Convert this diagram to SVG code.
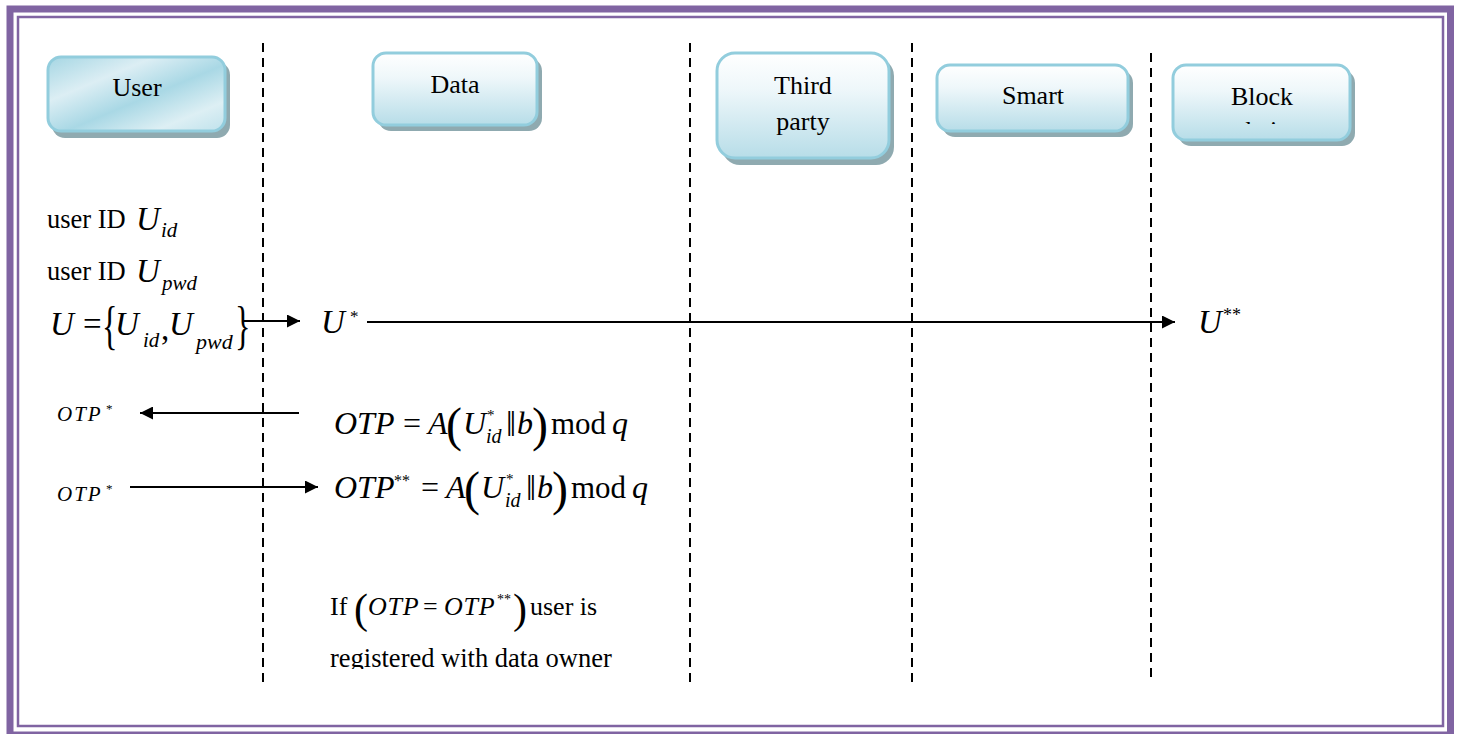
<svg xmlns="http://www.w3.org/2000/svg" width="1459" height="734" viewBox="0 0 1459 734">
  <defs>
    <linearGradient id="gUser" x1="0" y1="0" x2="1" y2="1">
      <stop offset="0" stop-color="#A5D6E3"/>
      <stop offset="0.3" stop-color="#DCEEF4"/>
      <stop offset="0.55" stop-color="#A9D8E5"/>
      <stop offset="0.8" stop-color="#DDEFF4"/>
      <stop offset="1" stop-color="#BFE2EC"/>
    </linearGradient>
    <linearGradient id="gBox" x1="0" y1="0" x2="0" y2="1">
      <stop offset="0" stop-color="#FFFFFF"/>
      <stop offset="0.35" stop-color="#EEF7FA"/>
      <stop offset="1" stop-color="#B7DDE8"/>
    </linearGradient>
    <marker id="arr" viewBox="0 0 10 10" refX="10" refY="5" markerWidth="18" markerHeight="13" markerUnits="userSpaceOnUse" orient="auto">
      <path d="M0,0 L10,5 L0,10 Z" fill="#000"/>
    </marker>
    <clipPath id="clipBlock">
      <rect x="1170" y="60" width="190" height="64"/>
    </clipPath>
    <clipPath id="clipNote">
      <rect x="300" y="580" width="400" height="89"/>
    </clipPath>
  </defs>
  <style>
    .frame { fill: none; stroke: #8064A2; }
    .lane { stroke: #000; stroke-width: 2; stroke-dasharray: 9 6; fill: none; }
    .shadow { fill: #8FAAB0; }
    .box { stroke: #92CDDD; stroke-width: 3; }
    .lbl { font-family: 'Liberation Serif', 'Times New Roman', serif; font-size: 26px; fill: #000; text-anchor: middle; }
    .t { font-family: 'Liberation Serif', 'Times New Roman', serif; fill: #000; }
    .i { font-family: 'Liberation Serif', 'Times New Roman', serif; font-style: italic; fill: #000; }
    .msg { stroke: #000; stroke-width: 2; fill: none; marker-end: url(#arr); }
  </style>

  <!-- page frame -->
  <rect class="frame" x="10" y="9" width="1440.5" height="726" stroke-width="7"/>
  <rect class="frame" x="18" y="17" width="1425" height="709" stroke-width="2.5"/>

  <!-- lifelines -->
  <g id="lifelines">
    <line class="lane" x1="263" y1="43" x2="263" y2="688"/>
    <line class="lane" x1="690" y1="43" x2="690" y2="688"/>
    <line class="lane" x1="912" y1="43" x2="912" y2="688"/>
    <line class="lane" x1="1151" y1="53" x2="1151" y2="678"/>
  </g>

  <!-- participants -->
  <g id="user">
    <rect class="shadow" x="52" y="62" width="178" height="76" rx="13"/>
    <rect class="box" x="48" y="57" width="177" height="74" rx="13" fill="url(#gUser)" stroke="#A3D5E2"/>
    <text class="lbl" x="137" y="96">User</text>
  </g>
  <g id="data">
    <rect class="shadow" x="378" y="58" width="164" height="73" rx="13"/>
    <rect class="box" x="373" y="53" width="164" height="72" rx="13" fill="url(#gBox)"/>
    <text class="lbl" x="455" y="93">Data</text>
  </g>
  <g id="third-party">
    <rect class="shadow" x="722" y="58" width="172" height="107" rx="18"/>
    <rect class="box" x="717" y="53" width="172" height="105" rx="18" fill="url(#gBox)"/>
    <text class="lbl" x="803" y="94">Third</text>
    <text class="lbl" x="803" y="130">party</text>
  </g>
  <g id="smart">
    <rect class="shadow" x="942" y="70" width="191" height="67" rx="13"/>
    <rect class="box" x="937" y="65" width="191" height="66" rx="13" fill="url(#gBox)"/>
    <text class="lbl" x="1033" y="104">Smart</text>
  </g>
  <g id="blockchain">
    <rect class="shadow" x="1178" y="70" width="177" height="76" rx="13"/>
    <rect class="box" x="1173" y="65" width="177" height="75" rx="13" fill="url(#gBox)"/>
    <text class="lbl" x="1262" y="105">Block</text>
    <text class="lbl" x="1262" y="139" clip-path="url(#clipBlock)">chain</text>
  </g>

  <!-- user side notes -->
  <g id="user-notes">
    <text class="t" x="47" y="228" font-size="26.5">user ID</text>
    <text class="i" x="136" y="230" font-size="33">U</text>
    <text class="i" x="161" y="237" font-size="21">id</text>

    <text class="t" x="47" y="280" font-size="26.5">user ID</text>
    <text class="i" x="136" y="282" font-size="33">U</text>
    <text class="i" x="162" y="290" font-size="21">pwd</text>

    <text class="i" x="50" y="335" font-size="33">U</text>
    <text class="t" x="83" y="335" font-size="33">=</text>
    <text class="t" x="102" y="343" font-size="52" transform="translate(102 343) scale(0.62 1) translate(-102 -343)">{</text>
    <text class="i" x="115" y="335" font-size="33">U</text>
    <text class="i" x="143" y="347" font-size="21">id</text>
    <text class="t" x="161" y="340" font-size="33">,</text>
    <text class="i" x="169" y="335" font-size="33">U</text>
    <text class="i" x="196" y="349" font-size="22">pwd</text>
    <text class="t" x="235" y="343" font-size="52" transform="translate(235 343) scale(0.62 1) translate(-235 -343)">}</text>
  </g>

  <!-- message flow -->
  <g id="messages">
    <line class="msg" x1="243" y1="321" x2="300" y2="321"/>
    <line class="msg" x1="367" y1="322" x2="1175" y2="322"/>
    <line class="msg" x1="299" y1="413" x2="140" y2="413"/>
    <line class="msg" x1="130" y1="487" x2="318" y2="487"/>
  </g>

  <!-- data owner side -->
  <g id="data-notes">
    <text class="i" x="321" y="333" font-size="33">U</text>
    <text class="t" x="350" y="322" font-size="17">*</text>

    <text class="i" x="1198" y="333" font-size="33">U</text>
    <text class="t" x="1223" y="321" font-size="18">**</text>

    <text class="i" x="57" y="421" font-size="21" letter-spacing="2">OTP</text>
    <text class="t" x="106" y="413" font-size="13">*</text>

    <text class="i" x="57" y="501" font-size="21" letter-spacing="2">OTP</text>
    <text class="t" x="106" y="493" font-size="13">*</text>

    <!-- OTP = A(U*_id || b) mod q -->
    <text class="i" x="334" y="434" font-size="32">OTP</text>
    <text class="t" x="403" y="434" font-size="32">=</text>
    <text class="i" x="428" y="434" font-size="32">A</text>
    <text class="t" x="446" y="441" font-size="48">(</text>
    <text class="i" x="463" y="434" font-size="32">U</text>
    <text class="t" x="487" y="420" font-size="15">*</text>
    <text class="i" x="486" y="443" font-size="20">id</text>
    <text class="t" x="506" y="436" font-size="36">‖</text>
    <text class="i" x="517" y="434" font-size="32">b</text>
    <text class="t" x="532" y="441" font-size="48">)</text>
    <text class="t" x="551" y="434" font-size="31">mod</text>
    <text class="i" x="612" y="434" font-size="32">q</text>

    <!-- OTP** = A(U*_id || b) mod q -->
    <text class="i" x="334" y="498" font-size="32">OTP</text>
    <text class="t" x="394" y="486" font-size="16">**</text>
    <text class="t" x="421" y="498" font-size="32">=</text>
    <text class="i" x="446" y="498" font-size="32">A</text>
    <text class="t" x="464" y="505" font-size="48">(</text>
    <text class="i" x="481" y="498" font-size="32">U</text>
    <text class="t" x="506" y="484" font-size="15">*</text>
    <text class="i" x="505" y="507" font-size="20">id</text>
    <text class="t" x="526" y="500" font-size="36">‖</text>
    <text class="i" x="537" y="498" font-size="32">b</text>
    <text class="t" x="552" y="505" font-size="48">)</text>
    <text class="t" x="571" y="498" font-size="31">mod</text>
    <text class="i" x="632" y="498" font-size="32">q</text>

    <!-- registration result -->
    <text class="t" x="330" y="615" font-size="26">If</text>
    <text class="t" x="354" y="623" font-size="42">(</text>
    <text class="i" x="368" y="615" font-size="26" letter-spacing="0.8">OTP</text>
    <text class="t" x="423" y="615" font-size="26">=</text>
    <text class="i" x="444" y="615" font-size="26" letter-spacing="0.8">OTP</text>
    <text class="t" x="497" y="604" font-size="14">**</text>
    <text class="t" x="513" y="623" font-size="42">)</text>
    <text class="t" x="530" y="615" font-size="26">user is</text>
    <text class="t" x="330" y="667" font-size="26.5" clip-path="url(#clipNote)">registered with data owner</text>
  </g>
</svg>
